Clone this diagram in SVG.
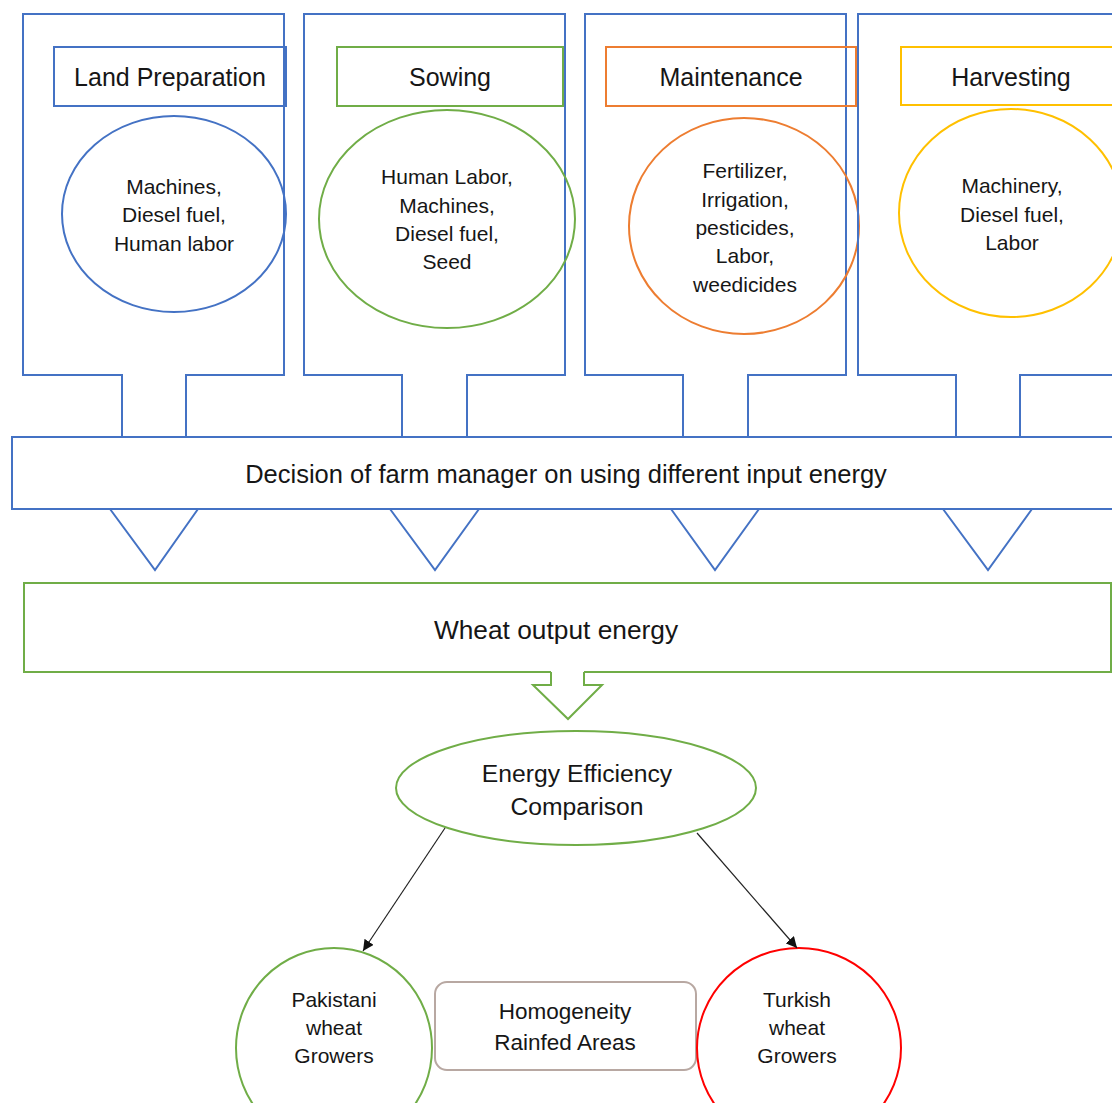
<svg xmlns="http://www.w3.org/2000/svg" width="1112" height="1103" viewBox="0 0 1112 1103">
<defs>
<style>
.t{font-family:"Liberation Sans",Arial,sans-serif;fill:#161616;text-anchor:middle}
.blue{fill:none;stroke:#4472C4;stroke-width:2}
.green{fill:none;stroke:#70AD47;stroke-width:2}
.orange{fill:none;stroke:#ED7D31;stroke-width:2}
.yellow{fill:none;stroke:#FFC000;stroke-width:2}
.red{fill:none;stroke:#FF0000;stroke-width:2}
.gray{fill:none;stroke:#B8A8A2;stroke-width:2}
.title{font-size:25px}
.item{font-size:21px}
.conn{fill:none;stroke:#222;stroke-width:1.2}
</style>
<marker id="ah" viewBox="0 0 10 10" refX="10" refY="5" markerWidth="11" markerHeight="11" markerUnits="userSpaceOnUse" orient="auto">
<path d="M0,0 L10,5 L0,10 z" fill="#111"/>
</marker>
</defs>
<rect width="1112" height="1103" fill="#fff"/>

<g id="land-preparation">
<path class="blue" d="M122,437 V375 H23 V14 H284 V375 H186 V437"/>
<rect class="blue" x="54" y="47" width="232" height="59"/>
<text class="t title" x="170" y="86">Land Preparation</text>
<ellipse class="blue" cx="174" cy="214" rx="112" ry="98"/>
<text class="t item" x="174" y="194">Machines,</text>
<text class="t item" x="174" y="222">Diesel fuel,</text>
<text class="t item" x="174" y="251">Human labor</text>
</g>

<g id="sowing">
<path class="blue" d="M402,437 V375 H304 V14 H565 V375 H467 V437"/>
<rect class="green" x="337" y="47" width="226" height="59"/>
<text class="t title" x="450" y="86">Sowing</text>
<ellipse class="green" cx="447" cy="219" rx="128" ry="109"/>
<text class="t item" x="447" y="184">Human Labor,</text>
<text class="t item" x="447" y="213">Machines,</text>
<text class="t item" x="447" y="241">Diesel fuel,</text>
<text class="t item" x="447" y="269">Seed</text>
</g>

<g id="maintenance">
<path class="blue" d="M683,437 V375 H585 V14 H846 V375 H748 V437"/>
<rect class="orange" x="606" y="47" width="250" height="59"/>
<text class="t title" x="731" y="86">Maintenance</text>
<ellipse class="orange" cx="744" cy="226" rx="115" ry="108"/>
<text class="t item" x="745" y="178">Fertilizer,</text>
<text class="t item" x="745" y="207">Irrigation,</text>
<text class="t item" x="745" y="235">pesticides,</text>
<text class="t item" x="745" y="263">Labor,</text>
<text class="t item" x="745" y="292">weedicides</text>
</g>

<g id="harvesting">
<path class="blue" d="M956,437 V375 H858 V14 H1120 M1120,375 H1020 V437"/>
<path class="yellow" d="M1120,47 H901 V105 H1120"/>
<text class="t title" x="1011" y="86">Harvesting</text>
<ellipse class="yellow" cx="1011" cy="213" rx="112" ry="104"/>
<text class="t item" x="1012" y="193">Machinery,</text>
<text class="t item" x="1012" y="222">Diesel fuel,</text>
<text class="t item" x="1012" y="250">Labor</text>
</g>

<g id="decision">
<rect class="blue" x="12" y="437" width="1110" height="72"/>
<text class="t" style="font-size:25.5px" x="566" y="483">Decision of farm manager on using different input energy</text>
</g>

<g id="wheat-output">
<path class="green" d="M551,672 H24 V583 H1111 V672 H584"/>
<text class="t" style="font-size:26.3px" x="556" y="639">Wheat output energy</text>
</g>

<g id="energy-efficiency">
<ellipse class="green" cx="576" cy="788" rx="180" ry="57"/>
<text class="t" style="font-size:24.7px" x="577" y="782">Energy Efficiency</text>
<text class="t" style="font-size:24.7px" x="577" y="815">Comparison</text>
</g>

<g id="pakistani">
<ellipse class="green" cx="334" cy="1048" rx="98" ry="100"/>
<text class="t item" x="334" y="1007">Pakistani</text>
<text class="t item" x="334" y="1035">wheat</text>
<text class="t item" x="334" y="1063">Growers</text>
</g>

<g id="homogeneity">
<rect class="gray" x="435" y="982" width="261" height="88" rx="12" ry="12"/>
<text class="t" style="font-size:22.5px" x="565" y="1019">Homogeneity</text>
<text class="t" style="font-size:22.5px" x="565" y="1050">Rainfed Areas</text>
</g>

<g id="turkish">
<ellipse class="red" cx="799" cy="1048" rx="102" ry="100"/>
<text class="t item" x="797" y="1007">Turkish</text>
<text class="t item" x="797" y="1035">wheat</text>
<text class="t item" x="797" y="1063">Growers</text>
</g>

<g id="connectors">
<path class="blue" d="M110,509 L155,570 L198,509"/>
<path class="blue" d="M390,509 L435,570 L479,509"/>
<path class="blue" d="M671,509 L715,570 L759,509"/>
<path class="blue" d="M943,509 L988,570 L1032,509"/>
<path class="green" d="M551,672 V685 H533 L568,719 L602,685 H584 V672"/>
<line class="conn" x1="445" y1="828" x2="363" y2="951" marker-end="url(#ah)"/>
<line class="conn" x1="697" y1="833" x2="797" y2="948" marker-end="url(#ah)"/>
</g>
</svg>
